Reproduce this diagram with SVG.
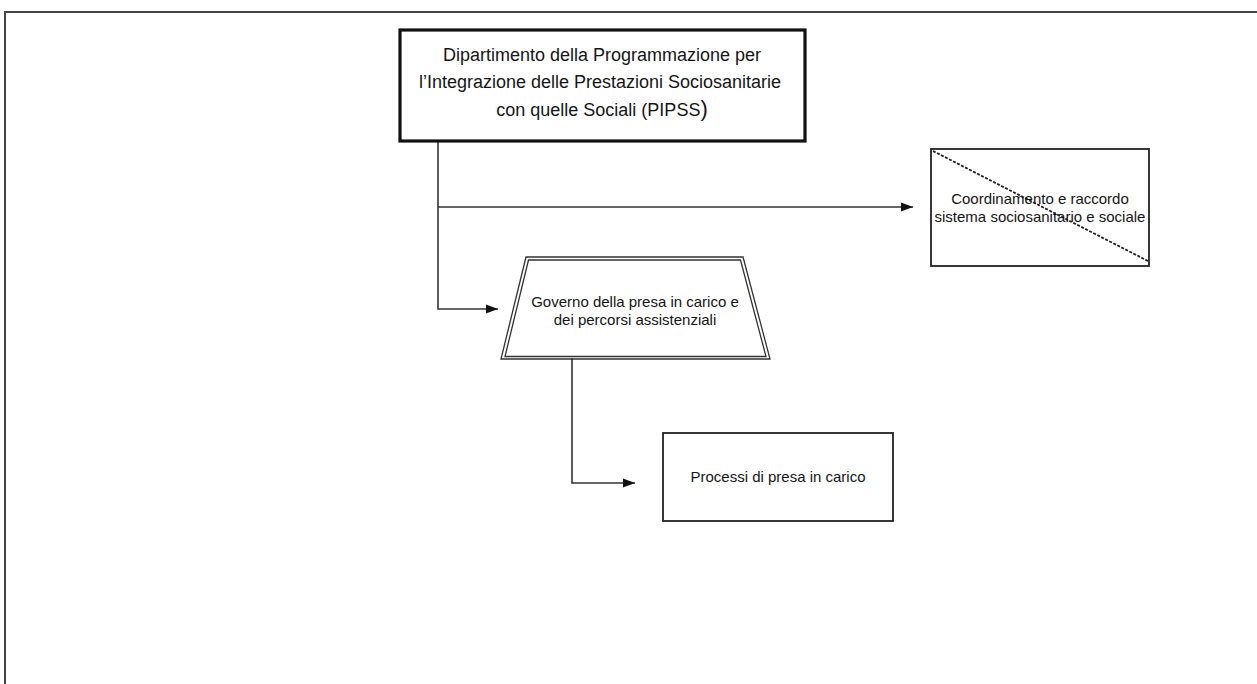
<svg xmlns="http://www.w3.org/2000/svg" width="1257" height="684" viewBox="0 0 1257 684">
  <style>
    .frame { fill: none; stroke: #444; stroke-width: 2; }
    .box { fill: #fff; stroke: #222; stroke-width: 1.8; }
    .main { fill: #fff; stroke: #111; stroke-width: 3.2; }
    .trap { fill: none; stroke: #333; stroke-width: 1.3; stroke-linejoin: miter; }
    .lbl { font-family: "Liberation Sans", Arial, sans-serif; fill: #151515; text-anchor: middle; }
    .conn { fill: none; stroke: #333; stroke-width: 1.6; }
    .diag { stroke: #222; stroke-width: 1.8; stroke-dasharray: 3 1.5; }
  </style>
  <defs>
    <marker id="arrow" viewBox="0 0 12 10" refX="12" refY="5" markerWidth="12" markerHeight="10" markerUnits="userSpaceOnUse" orient="auto">
      <path d="M0,0.5 L12,5 L0,9.5 Z" fill="#111"/>
    </marker>
  </defs>

  <rect width="1257" height="684" fill="#fff"/>
  <!-- outer frame -->
  <rect class="frame" x="5" y="12" width="1262" height="700"/>

  <!-- connectors -->
  <g id="connectors">
    <path class="conn" d="M438,141 V309 H498" marker-end="url(#arrow)"/>
    <path class="conn" d="M438,207 H913" marker-end="url(#arrow)"/>
    <path class="conn" d="M572,358 V483 H635" marker-end="url(#arrow)"/>
  </g>

  <g id="node-pipss">
    <rect class="main" x="400" y="30" width="405" height="111"/>
    <text class="lbl" font-size="18" x="602" y="61">Dipartimento della Programmazione per</text>
    <text class="lbl" font-size="18" x="600" y="88">l’Integrazione delle Prestazioni Sociosanitarie</text>
    <text class="lbl" font-size="18" x="602" y="116">con quelle Sociali (PIPSS<tspan font-size="22">)</tspan></text>
  </g>

  <g id="node-coordinamento">
    <rect class="box" x="931" y="149" width="218" height="117"/>
    <line class="diag" x1="933" y1="151" x2="1148" y2="261"/>
    <text class="lbl" font-size="15" x="1040" y="204">Coordinamento e raccordo</text>
    <text class="lbl" font-size="15" x="1040" y="222">sistema sociosanitario e sociale</text>
  </g>

  <g id="node-governo">
    <!-- double outline: outer and inset trapezoid -->
    <polygon class="trap" points="526,257 743,257 770,359 501,359"/>
    <polygon class="trap" points="528.5,260 740.5,260 766,356.5 505,356.5"/>
    <text class="lbl" font-size="15" x="635" y="307">Governo della presa in carico e</text>
    <text class="lbl" font-size="15" x="635" y="325">dei percorsi assistenziali</text>
  </g>

  <g id="node-processi">
    <rect class="box" x="663" y="433" width="230" height="88"/>
    <text class="lbl" font-size="15" x="778" y="482">Processi di presa in carico</text>
  </g>
</svg>
